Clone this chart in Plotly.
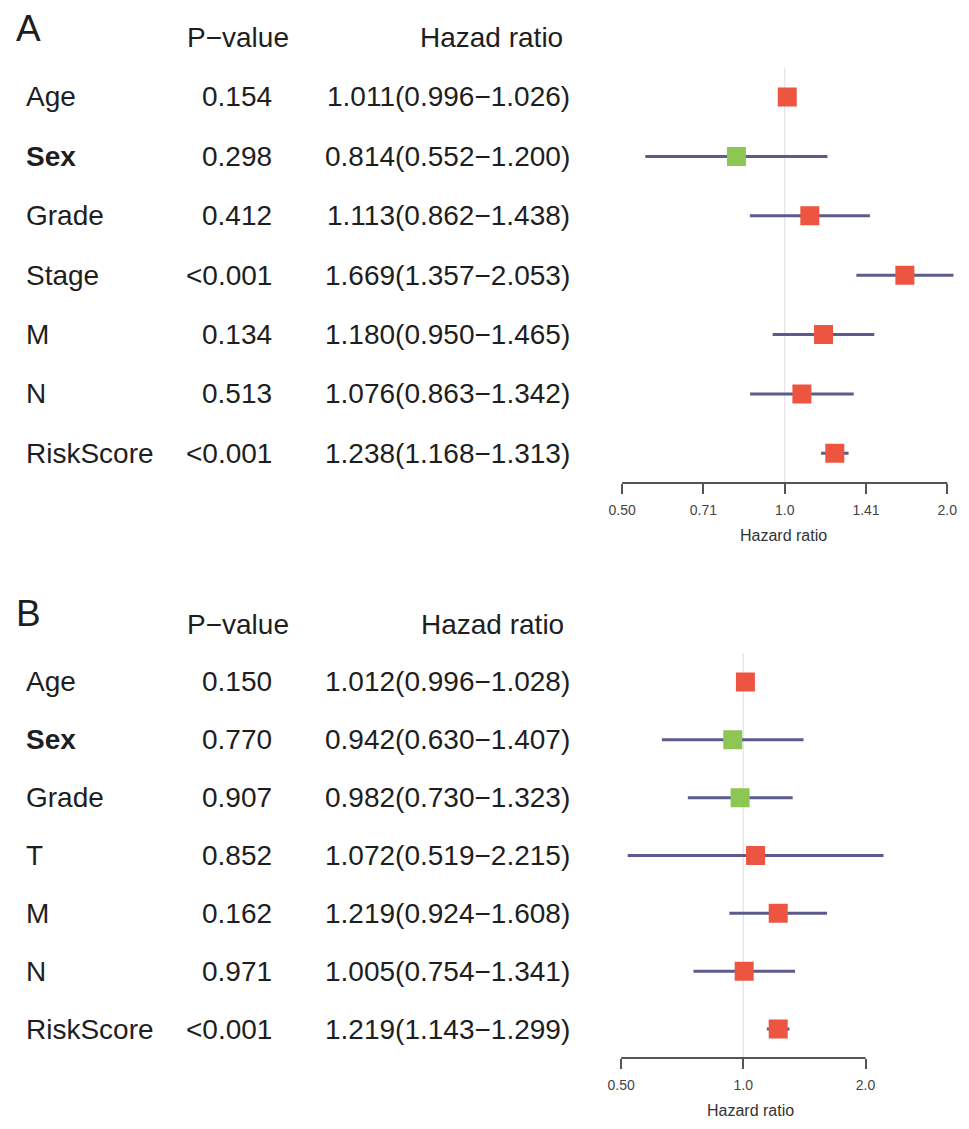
import math
import plotly.graph_objects as go

W, H = 969, 1129

# ---------------- data ----------------
variables_A = ["Age", "Sex", "Grade", "Stage", "M", "N", "RiskScore"]
pvalues_A = ["0.154", "0.298", "0.412", "<0.001", "0.134", "0.513", "<0.001"]
hr_A = [1.011, 0.814, 1.113, 1.669, 1.180, 1.076, 1.238]
lower_A = [0.996, 0.552, 0.862, 1.357, 0.950, 0.863, 1.168]
upper_A = [1.026, 1.200, 1.438, 2.053, 1.465, 1.342, 1.313]
tickvals_A = [0.5, 0.7071, 1.0, 1.4142, 2.0]
ticktext_A = ["0.50", "0.71", "1.0", "1.41", "2.0"]

variables_B = ["Age", "Sex", "Grade", "T", "M", "N", "RiskScore"]
pvalues_B = ["0.150", "0.770", "0.907", "0.852", "0.162", "0.971", "<0.001"]
hr_B = [1.012, 0.942, 0.982, 1.072, 1.219, 1.005, 1.219]
lower_B = [0.996, 0.630, 0.730, 0.519, 0.924, 0.754, 1.143]
upper_B = [1.028, 1.407, 1.323, 2.215, 1.608, 1.341, 1.299]
tickvals_B = [0.5, 1.0, 2.0]
ticktext_B = ["0.50", "1.0", "2.0"]

bold_labels = ["Sex"]
header_p = "P\u2212value"
header_hr = "Hazad ratio"
axis_title = "Hazard ratio"

# ---------------- styling / layout (pixels) ----------------
RED = "#EE5540"
GREEN = "#8DC653"
CI_COLOR = "#5C5B8C"
REF_COLOR = "#E2E2EA"
TXT = "#1e1e1e"
FONT = "Liberation Sans, Arial, sans-serif"
FS = 28

LABEL_X = 10
PVAL_RIGHT = 264
HEADER_P_RIGHT = 281
LETTER_X = 0

panels = [
    dict(letter="A", names=variables_A, p=pvalues_A, hr=hr_A, lo=lower_A, hi=upper_A,
         tv=tickvals_A, tt=ticktext_A, top=67.3, bottom=483.0, x05=617.0, x2=947.0, xmax=2.1,
         letter_y=28.0, header_y=37.7, title_x=781.0, hr_right=566.0, header_hr_right=559.0),
    dict(letter="B", names=variables_B, p=pvalues_B, hr=hr_B, lo=lower_B, hi=upper_B,
         tv=tickvals_B, tt=ticktext_B, top=653.0, bottom=1058.0, x05=616.0, x2=864.0, xmax=2.3,
         letter_y=613.0, header_y=624.0, title_x=747.0, hr_right=566.0, header_hr_right=560.0),
]

fig = go.Figure()
annotations = []
shapes = []
layout_axes = {}

for k, P in enumerate(panels):
    n = len(P["names"])
    rows = list(range(1, n + 1))
    xa = "x" if k == 0 else "x2"
    ya = "y" if k == 0 else "y2"
    xname = "xaxis" if k == 0 else "xaxis2"
    yname = "yaxis" if k == 0 else "yaxis2"

    scale = (P["x2"] - P["x05"]) / math.log10(4.0)
    xright = P["x05"] + scale * (math.log10(P["xmax"]) - math.log10(0.5))

    layout_axes[xname] = dict(
        type="log", range=[math.log10(0.5), math.log10(P["xmax"])],
        domain=[P["x05"] / W, min(xright / W, 1.0)], anchor=ya,
        showgrid=False, zeroline=False, showline=False,
        ticks="outside", ticklen=10, tickwidth=2, tickcolor="#555555",
        tickvals=P["tv"], ticktext=P["tt"],
        tickfont=dict(family=FONT, size=14, color="#444444"),
        ticklabelstandoff=4,
    )
    layout_axes[yname] = dict(
        range=[n + 0.5, 0.5], domain=[1 - P["bottom"] / H, 1 - P["top"] / H],
        anchor=xa, visible=False, showgrid=False, zeroline=False,
    )

    # reference line at HR = 1
    fig.add_trace(go.Scatter(x=[1.0, 1.0], y=[0.5, n + 0.5], mode="lines",
                             line=dict(color=REF_COLOR, width=1.2),
                             xaxis=xa, yaxis=ya, hoverinfo="skip"))
    # confidence intervals
    cx, cy = [], []
    for r, lo, hi in zip(rows, P["lo"], P["hi"]):
        cx += [lo, hi, None]
        cy += [r, r, None]
    fig.add_trace(go.Scatter(x=cx, y=cy, mode="lines",
                             line=dict(color=CI_COLOR, width=3),
                             xaxis=xa, yaxis=ya, hoverinfo="skip"))
    # point estimates
    fig.add_trace(go.Scatter(x=P["hr"], y=rows, mode="markers",
                             marker=dict(symbol="square", size=19,
                                         color=[RED if v > 1 else GREEN for v in P["hr"]],
                                         line=dict(width=0)),
                             xaxis=xa, yaxis=ya))

    # axis line between first and last tick
    shapes.append(dict(type="line", xref=xa, yref=ya + " domain",
                       x0=P["tv"][0], x1=P["tv"][-1], y0=0, y1=0,
                       line=dict(color="#555555", width=2)))

    # axis title
    annotations.append(dict(text=axis_title, xref="paper", yref="paper",
                            x=P["title_x"] / W, y=1 - (P["bottom"] + 52) / H,
                            xanchor="center", yanchor="middle", showarrow=False,
                            font=dict(family=FONT, size=16, color="#333333")))

    # panel letter
    annotations.append(dict(text=P["letter"], xref="paper", yref="paper",
                            x=LETTER_X / W, y=1 - P["letter_y"] / H, xanchor="left", yanchor="middle",
                            showarrow=False, font=dict(family=FONT, size=37, color=TXT)))
    # headers
    annotations.append(dict(text=header_p, xref="paper", yref="paper",
                            x=HEADER_P_RIGHT / W, y=1 - P["header_y"] / H, xanchor="right",
                            yanchor="middle", showarrow=False,
                            font=dict(family=FONT, size=FS, color=TXT)))
    annotations.append(dict(text=header_hr, xref="paper", yref="paper",
                            x=P["header_hr_right"] / W, y=1 - P["header_y"] / H,
                            xanchor="right", yanchor="middle",
                            showarrow=False, font=dict(family=FONT, size=FS, color=TXT)))

    # table rows
    for r, name, pv, h, lo, hi in zip(rows, P["names"], P["p"], P["hr"], P["lo"], P["hi"]):
        label = f"<b>{name}</b>" if name in bold_labels else name
        annotations.append(dict(text=label, xref="paper", yref=ya, x=LABEL_X / W, y=r,
                                xanchor="left", yanchor="middle", showarrow=False,
                                font=dict(family=FONT, size=FS, color=TXT)))
        annotations.append(dict(text=pv, xref="paper", yref=ya, x=PVAL_RIGHT / W, y=r,
                                xanchor="right", yanchor="middle", showarrow=False,
                                font=dict(family=FONT, size=FS, color=TXT)))
        annotations.append(dict(text=f"{h:.3f}({lo:.3f}\u2212{hi:.3f})", xref="paper", yref=ya,
                                x=P["hr_right"] / W, y=r, xanchor="right", yanchor="middle",
                                showarrow=False, font=dict(family=FONT, size=FS, color=TXT)))

fig.update_layout(
    width=W, height=H, margin=dict(l=0, r=0, t=0, b=0),
    paper_bgcolor="white", plot_bgcolor="white", showlegend=False,
    annotations=annotations, shapes=shapes, **layout_axes,
)

fig.write_html("out.html", config={"displayModeBar": False},
               post_script="document.body.style.margin='0';document.body.style.padding='0';")
